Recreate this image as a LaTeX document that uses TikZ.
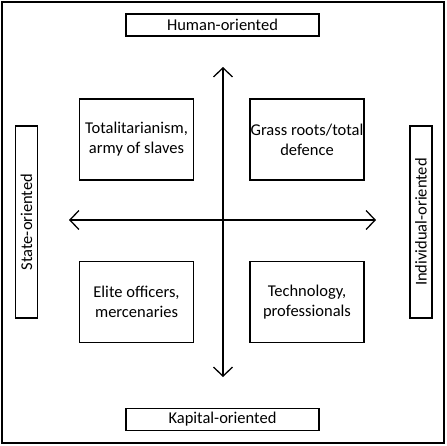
\documentclass[tikz,border=0pt]{standalone}
\usepackage{fontspec}
\setmainfont{Carlito}
\usetikzlibrary{arrows.meta}
\begin{document}
\begin{tikzpicture}[x=1pt,y=-1pt,
  lab/.style={draw,line width=1.2pt,inner sep=0pt,font=\fontsize{16.5}{19}\selectfont},
  quad/.style={draw,line width=1.1pt,inner sep=0pt,minimum width=114pt,minimum height=81pt,align=center,font=\fontsize{16.5}{20}\selectfont},
  axis/.style={line width=1.3pt,{Straight Barb[length=9pt,width=19pt,line width=1.3pt]}-{Straight Barb[length=9pt,width=19pt,line width=1.3pt]}}]
\useasboundingbox (0,0) rectangle (447,445);
\draw[line width=2pt] (2,1.5) rectangle (443.5,442.5);
\node[lab,minimum width=193pt,minimum height=22pt] (top) at (222.5,25) {Human-oriented};
\node[lab,minimum width=193pt,minimum height=22pt] (bot) at (222.5,419.5) {Kapital-oriented};
\node[lab,minimum width=192pt,minimum height=21.5pt,rotate=90] (left) at (26.5,222) {State-oriented};
\node[lab,minimum width=192pt,minimum height=22pt,rotate=90] (right) at (421,222) {Individual-oriented};
\node[quad] (tl) at (136.5,139.5) {Totalitarianism,\\army of slaves};
\node[quad] (tr) at (307,139.5) {Grass roots/total\\defence};
\node[quad] (bl) at (136.5,302) {Elite officers,\\mercenaries};
\node[quad] (br) at (307,302) {Technology,\\professionals};
\coordinate (vt) at (223,67);
\coordinate (vb) at (223,377);
\coordinate (hl) at (69,220);
\coordinate (hr) at (376,220);
\draw[axis] (vt) -- (vb);
\draw[axis] (hl) -- (hr);
\end{tikzpicture}
\end{document}
